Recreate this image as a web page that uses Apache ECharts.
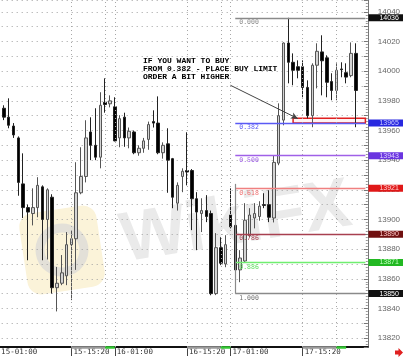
<!DOCTYPE html>
<html><head><meta charset="utf-8">
<script src="https://cdn.jsdelivr.net/npm/echarts@6/dist/echarts.min.js"></script>
<style>html,body{margin:0;padding:0;background:#fff;overflow:hidden}#c{width:403px;height:357px}</style>
</head><body><div id="c"></div>
<script>
// ---------- data ----------
const categoryCount = 77;          // hourly slots on the time axis
const firstCandleIndex = 1;        // slot of the first candle
const xTickLabels = ['15-01:00', '15-15:20', '16-01:00', '16-15:20', '17-01:00', '17-15:20'];
const xTickIndex  = [0, 15, 24, 39, 48, 63];
const vGridIndex  = [15, 22, 24, 39, 46, 48, 63, 70];
const sessionGray  = [[15, 22], [39, 46], [63, 70]];
const sessionGreen = [[22, 24], [46, 48], [70, 72]];

const opens  = [13975,13969,13963,13955,13924,13908,13904,13908,13922,13900,13915,13854,13857,13862,13883,13887,13918,13929,13959,13950,
                13942,13979,13978,13976,13955,13969,13955,13959,13945,13948,13954,13966,13965,13945,13951,13941,13911,13929,13933,13933,
                13914,13904,13906,13904,13850,13881,13870,13903,13896,13866,13872,13889,13901,13902,13910,13910,13901,13938,13967,14019,
                14006,14003,14003,13989,13970,14004,14013,14009,13993,13987,14001.5,13999,13997,14012];
const closes = [13969,13963.5,13957,13925,13908,13905,13908,13923,13900,13920,13854,13857,13864,13883,13887,13918,13929,13955,13950,13942,
                13977,13977.5,13980,13953,13968,13955,13959.5,13945,13948,13953,13964,13965,13945,13950,13940,13915,13923,13932.5,13932,13914,
                13905,13906,13902,13850,13881,13870.5,13883,13895,13866,13874,13899.5,13903,13904,13909,13909.5,13901.5,13938.5,13970,14019,14006,
                14000.6,14000.6,13989,13970,14004,14013.4,14007,13992.5,13987,14000.6,14001,13996,14012,13987];
const lows   = [13967,13961.5,13955,13916,13901,13872.5,13896,13901.5,13872.5,13873,13850,13838,13855.7,13855.7,13845.6,13866,13917,13925,13940,13940,
                13934.5,13972,13975.6,13952.7,13948.7,13949,13948,13944,13943,13945,13947,13962,13944,13941,13918,13907.6,13906,13918.4,13923,13892.8,
                13879.3,13891.5,13898.2,13848.9,13849,13869.2,13867.8,13894,13857.7,13857.7,13871.2,13888,13894,13899.2,13907.6,13898.2,13898,13936.6,13963.5,13991.8,
                13990.5,13995.2,13982.4,13968.2,13962.2,13988.4,13983.7,13982.4,13980.4,13980.4,13995.9,13991.8,13995.9,13962.2];
const highs  = [13977,13981.7,13965,13956,13944.6,13910,13921,13928.5,13923,13921,13917,13868,13876,13891.5,13892.8,13938.6,13948.7,13966.9,13968.9,13975,
                13985.8,13995.2,13983.7,13982.4,13970.3,13972,13962,13960,13950,13955,13966,13973.6,13983,13952,13961.5,13941.5,13925,13934.5,13958.8,13934,
                13918.4,13914.3,13916.4,13906,13890.8,13888,13889.4,13921,13898,13879.3,13911,13907.6,13911,13912.3,13917.7,13919.7,13943,13978.3,14019.4,14036,
                14012,14007.3,14007.3,13993.8,14005.3,14018.8,14024.2,14010.7,13998.6,14005.3,14006,14005.3,14019.4,14018.8];

const yMin = 13814, yMax = 14048;

const fibRatios      = ['0.000', '0.382', '0.500', '0.618', '0.786', '0.886', '1.000'];
const fibPrices      = [14036, 13965, 13943, 13921, 13890, 13871, 13850];
const fibLineColors  = ['#8a8a8a', '#5a5af5', '#a060e8', '#f08080', '#a84050', '#70ee70', '#8a8a8a'];
const fibTextColors  = ['#8a8a8a', '#5a5af5', '#a060e8', '#f07070', '#a84050', '#60e060', '#707070'];
const fibBoxColors   = ['#111111', '#2828e0', '#6a35e0', '#e01818', '#701010', '#22b822', '#111111'];
const fibBoxText     = ['#ffffff', '#c8c8ff', '#e0d0ff', '#ffd0d0', '#ffc8c8', '#c0ffc0', '#ffffff'];
const fibStartIndex = 49, fibEndIndex = 76;
const fibVertical = [13850, 13924];

const buyZoneIndex = [61, 76];
const buyZonePrice = [13965, 13968.3];
const arrowFrom = [48, 13990.5];
const arrowTo   = [62, 13968];
const noteLines = ['IF YOU WANT TO BUY', 'FROM 0.382 - PLACE BUY LIMIT', 'ORDER A BIT HIGHER'];

// ---------- build ----------
const categories = Array.from({length: categoryCount}, (_, i) => {
  const k = xTickIndex.indexOf(i);
  return k >= 0 ? xTickLabels[k] : 'h' + i;
});
const candleData = categories.map((_, i) => {
  const j = i - firstCandleIndex;
  if (j < 0 || j >= opens.length) return '-';
  return [opens[j], closes[j], lows[j], highs[j]];
});
const isTick = (idx) => xTickIndex.indexOf(idx) >= 0;

const mono = '"DejaVu Sans Mono", "Liberation Mono", monospace';
const sans = '"Liberation Sans", Arial, sans-serif';

const markLines = [];
vGridIndex.forEach(ix => markLines.push({
  xAxis: ix, lineStyle: {type: [1, 3], color: '#a8a8a8', width: 1}, label: {show: false}
}));
sessionGray.forEach(s => markLines.push([
  {coord: [s[0], yMin], lineStyle: {color: '#9a9a9a', width: 2.5, type: 'solid'}, label: {show: false}},
  {coord: [s[1], yMin]}
]));
sessionGreen.forEach(s => markLines.push([
  {coord: [s[0], yMin], lineStyle: {color: '#33c833', width: 2.5, type: 'solid'}, label: {show: false}},
  {coord: [s[1], yMin]}
]));
fibPrices.forEach((p, k) => {
  markLines.push([
    {coord: [fibStartIndex, p], lineStyle: {color: fibLineColors[k], width: 1.3, type: 'solid'},
     label: {show: true, position: 'end', distance: 3, formatter: String(p), backgroundColor: fibBoxColors[k],
             color: fibBoxText[k], fontSize: 7, fontFamily: sans, lineHeight: 7, padding: [0, 8, 0, 11]}},
    {coord: [fibEndIndex, p]}
  ]);
  markLines.push([
    {coord: [fibStartIndex, p], lineStyle: {color: 'rgba(0,0,0,0)', width: 0},
     label: {show: true, position: 'insideStartBottom', distance: [4, 1], formatter: fibRatios[k],
             color: fibTextColors[k], fontSize: 6.5, fontFamily: mono, opacity: 1}},
    {coord: [fibEndIndex, p]}
  ]);
});
markLines.push([
  {coord: [fibStartIndex, fibVertical[0]], lineStyle: {color: '#8a8a8a', width: 1.2, type: 'solid'}, label: {show: false}},
  {coord: [fibStartIndex, fibVertical[1]]}
]);
markLines.push([
  {coord: arrowFrom, symbol: 'none', lineStyle: {color: '#444', width: 1, type: 'solid'}, label: {show: false}},
  {coord: arrowTo, symbol: 'arrow', symbolSize: [5, 7]}
]);

const noteGraphics = noteLines.map((t, i) => ({
  type: 'text', x: 143, y: 61 + i * 7.8, z: 100, silent: true,
  style: {text: t, align: 'left', verticalAlign: 'middle', font: 'bold 8px "Liberation Mono", monospace', fill: '#000'}
}));

const chart = echarts.init(document.getElementById('c'), null, {renderer: 'canvas'});
chart.setOption({
  animation: false,
  backgroundColor: '#ffffff',
  grid: {left: -3.3, right: 35.2, top: 0, bottom: 10, containLabel: false, outerBoundsMode: 'none'},
  xAxis: {
    type: 'category', data: categories, boundaryGap: true,
    axisLine: {show: true, lineStyle: {color: '#111', width: 2}},
    axisTick: {show: true, alignWithLabel: true, interval: isTick, length: 9, lineStyle: {color: '#444', width: 1}},
    axisLabel: {show: true, interval: isTick, align: 'left', margin: 1, padding: [0, 0, 0, 2],
                fontSize: 7.5, fontFamily: mono, color: '#333'},
    splitLine: {show: false}
  },
  yAxis: {
    type: 'value', position: 'right', min: yMin, max: yMax, splitNumber: 23, scale: true,
    axisLine: {show: true, lineStyle: {color: '#777', width: 1}},
    axisTick: {show: true, inside: true, length: 4, lineStyle: {color: '#777'}},
    minorTick: {show: true, splitNumber: 5, length: 2, lineStyle: {color: '#999'}},
    axisLabel: {show: true, margin: 10, fontSize: 8, fontFamily: sans, color: '#666',
                showMinLabel: false, showMaxLabel: false,
                formatter: v => (Math.round(v) % 20 === 0 && Math.abs(v - Math.round(v)) < 1e-6) ? String(Math.round(v)) : ''},
    splitLine: {show: true, lineStyle: {type: [1, 4], color: '#a0a0a0', width: 1}}
  },
  graphic: [
    {type: 'group', x: 62, y: 250, rotation: 0.15, z: 0, silent: true, children: [
      {type: 'rect', shape: {x: -39, y: -41, width: 78, height: 82, r: 14}, style: {fill: '#fbf3d9'}},
      {type: 'circle', shape: {cx: 0, cy: 0, r: 22}, style: {fill: 'none', stroke: '#e3e0d8', lineWidth: 9}}
    ]},
    {type: 'text', x: 236, y: 224, rotation: 0.16, z: 0, silent: true,
     style: {text: 'WikiFX', align: 'center', verticalAlign: 'middle', font: 'bold 70px "Liberation Sans", Arial', fill: '#eaeaea'}},
    ...noteGraphics,
    {type: 'polygon', z: 100, silent: true,
     shape: {points: [[395, 350.5], [398.5, 350.5], [398.5, 348], [403, 352.5], [398.5, 357], [398.5, 354.5], [395, 354.5]]},
     style: {fill: '#e02020'}}
  ],
  series: [{
    type: 'candlestick',
    data: candleData,
    barWidth: 3,
    clip: false,
    itemStyle: {color: '#d4d4d4', color0: '#000000', borderColor: '#555555', borderColor0: '#222222', borderWidth: 1},
    markLine: {silent: true, symbol: ['none', 'none'], animation: false, data: markLines},
    markArea: {silent: true, animation: false, data: [[
      {coord: [buyZoneIndex[0], buyZonePrice[1]], itemStyle: {color: '#fff2f2', borderColor: '#e02020', borderWidth: 1.5}},
      {coord: [buyZoneIndex[1], buyZonePrice[0]]}
    ]]}
  }]
});
</script>
</body></html>
